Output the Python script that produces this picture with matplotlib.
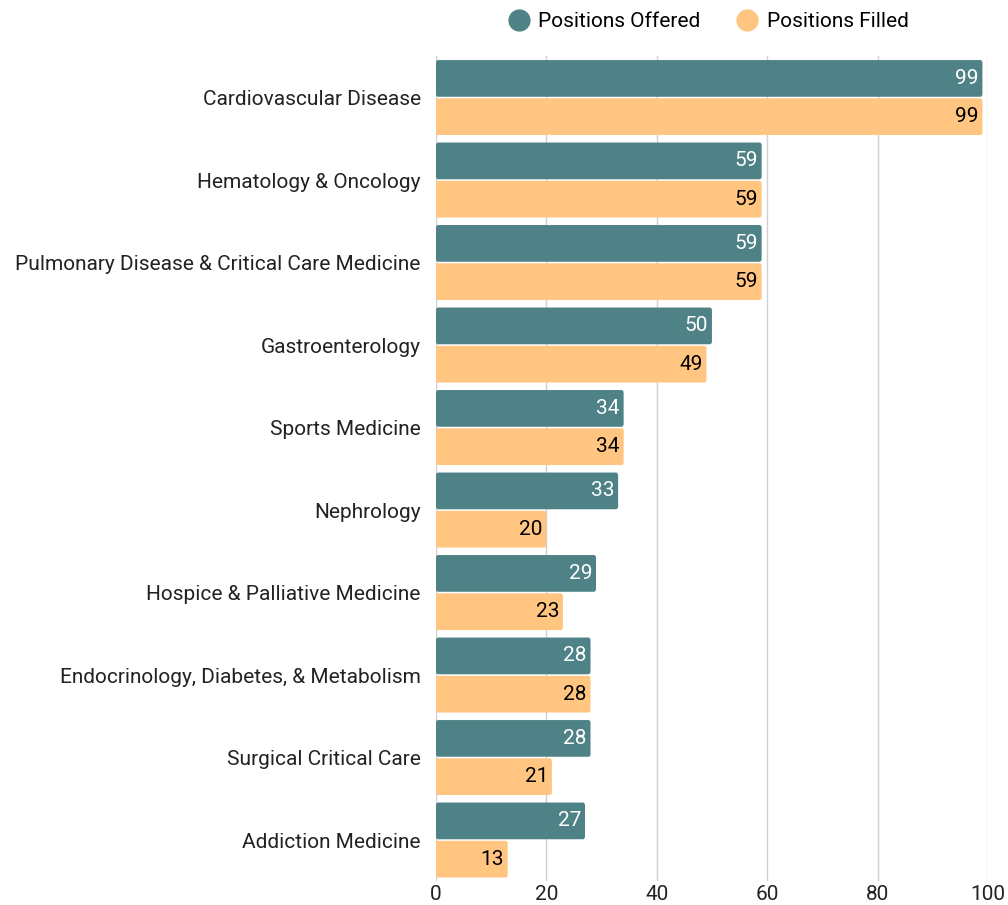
import matplotlib
matplotlib.use("Agg")
import matplotlib.pyplot as plt
from matplotlib.lines import Line2D
from matplotlib.patches import FancyBboxPatch

categories = [
    "Cardiovascular Disease",
    "Hematology & Oncology",
    "Pulmonary Disease & Critical Care Medicine",
    "Gastroenterology",
    "Sports Medicine",
    "Nephrology",
    "Hospice & Palliative Medicine",
    "Endocrinology, Diabetes, & Metabolism",
    "Surgical Critical Care",
    "Addiction Medicine",
]
offered = [99, 59, 59, 50, 34, 33, 29, 28, 28, 27]
filled = [99, 59, 59, 49, 34, 20, 23, 28, 21, 13]
xticks = [0, 20, 40, 60, 80, 100]

TEAL = "#4f8286"
ORANGE = "#ffc581"
FS = 15
plt.rcParams["font.family"] = ["Roboto", "DejaVu Sans"]

fig = plt.figure(figsize=(10.08, 9.05), dpi=100)
ax = fig.add_axes([0.4325, 0.0262, 0.5476, 0.9116])

h = 0.445
off = 0.232


def rbar(y, w, color):
    # bar with slightly rounded corners
    p = FancyBboxPatch((0, y - h / 2), w, h, boxstyle="round,pad=0,rounding_size=0.4",
                       mutation_aspect=0.08, fc=color, ec="none", zorder=2)
    ax.add_patch(p)


for i, (o, f) in enumerate(zip(offered, filled)):
    rbar(i - off, o, TEAL)
    rbar(i + off, f, ORANGE)
    ax.text(o - 0.7, i - off, str(o), ha="right", va="center", color="white", fontsize=FS, zorder=3)
    ax.text(f - 0.7, i + off, str(f), ha="right", va="center", color="black", fontsize=FS, zorder=3)

ax.set_xlim(0, 100)
ax.set_ylim(9.5, -0.5)
ax.set_yticks(range(len(categories)))
ax.set_yticklabels(categories, fontsize=FS, color="#222222")
ax.set_xticks(xticks)
ax.set_xticklabels([str(t) for t in xticks], fontsize=FS, color="#222222")
ax.tick_params(length=0, pad=11, axis="y")
ax.tick_params(length=0, pad=3, axis="x")
for s in ax.spines.values():
    s.set_visible(False)
ax.grid(axis="x", color="#d0d0d0", lw=1, zorder=0)
ax.set_axisbelow(True)

handles = [Line2D([], [], marker="o", ls="", ms=15, color=TEAL, label="Positions Offered"),
           Line2D([], [], marker="o", ls="", ms=15, color=ORANGE, label="Positions Filled")]
fig.legend(handles=handles, loc="center", bbox_to_anchor=(0.703, 0.9757), ncol=2, frameon=False,
           fontsize=FS, handletextpad=0.45, columnspacing=1.75, handlelength=1.0)

fig.savefig("out.png", dpi=100)
